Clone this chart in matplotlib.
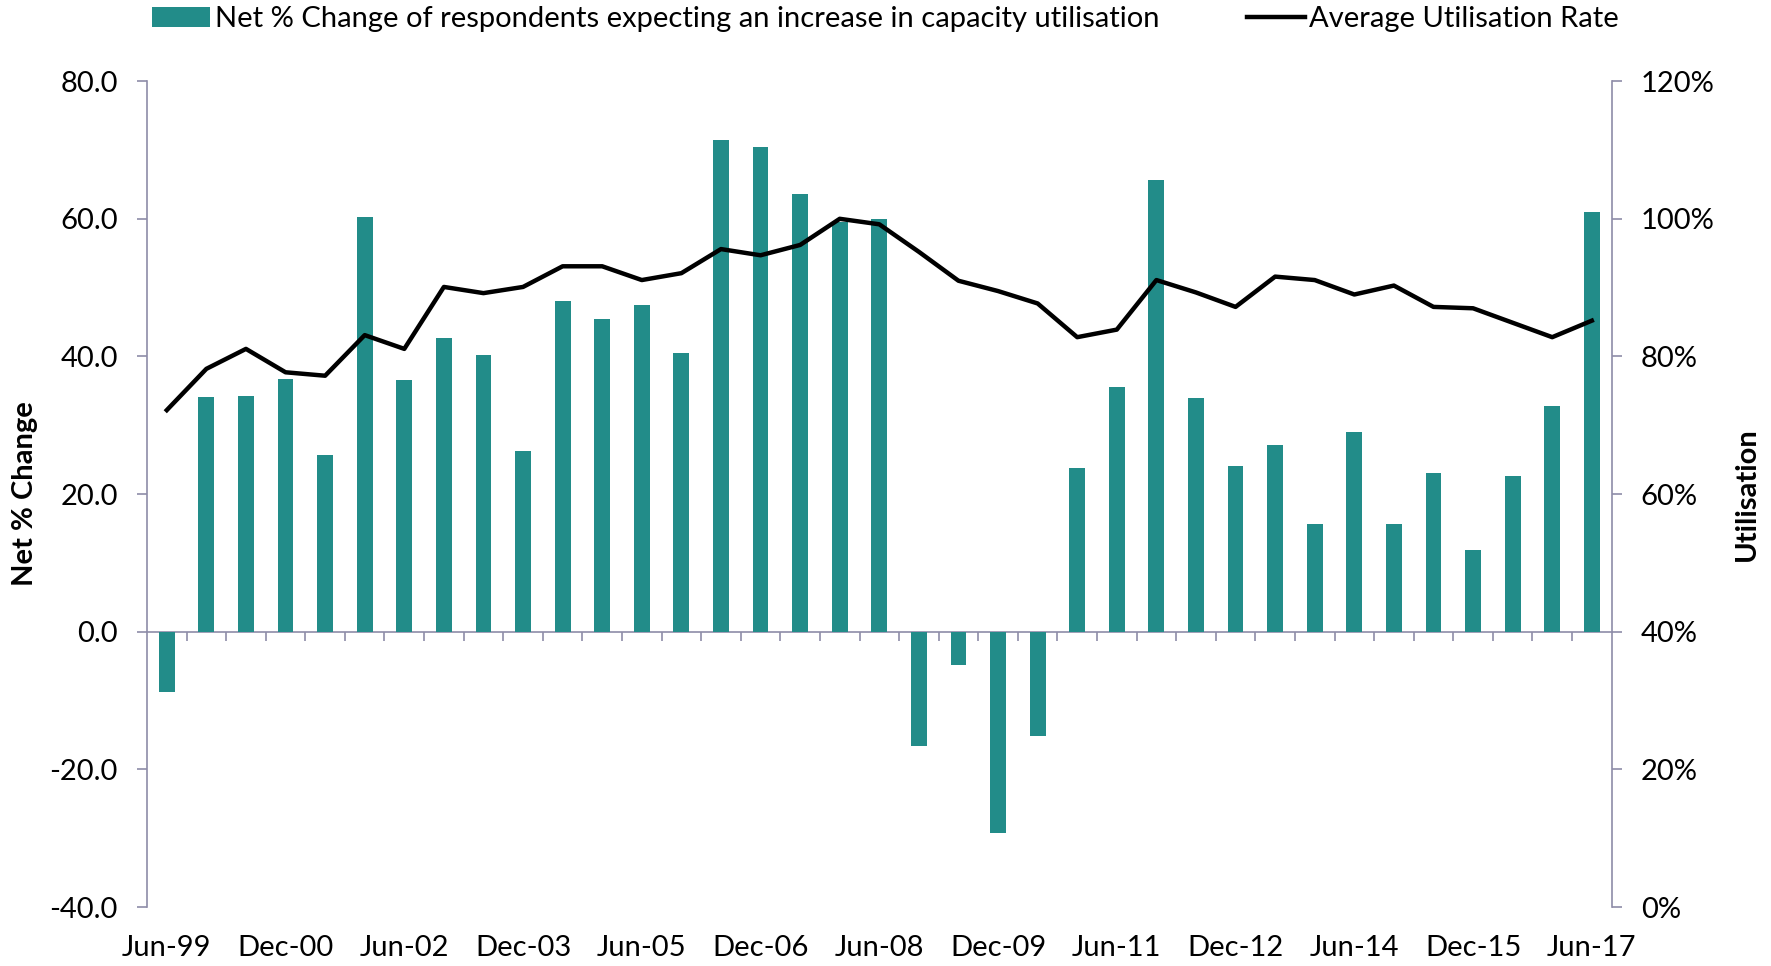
import matplotlib.pyplot as plt
import numpy as np
from matplotlib.ticker import PercentFormatter, FormatStrFormatter

plt.rcParams["font.family"] = ["Lato", "DejaVu Sans"]

periods = [
    "Jun-99", "Dec-99", "Jun-00", "Dec-00", "Jun-01", "Dec-01", "Jun-02", "Dec-02",
    "Jun-03", "Dec-03", "Jun-04", "Dec-04", "Jun-05", "Dec-05", "Jun-06", "Dec-06",
    "Jun-07", "Dec-07", "Jun-08", "Dec-08", "Jun-09", "Dec-09", "Jun-10", "Dec-10",
    "Jun-11", "Dec-11", "Jun-12", "Dec-12", "Jun-13", "Dec-13", "Jun-14", "Dec-14",
    "Jun-15", "Dec-15", "Jun-16", "Dec-16", "Jun-17",
]
net_change = [
    -8.8, 34.1, 34.3, 36.7, 25.7, 60.3, 36.6, 42.7, 40.2, 26.3, 48.1, 45.5,
    47.5, 40.5, 71.5, 70.5, 63.6, 59.5, 60.0, -16.6, -4.8, -29.2, -15.2, 23.8,
    35.5, 65.7, 34.0, 24.1, 27.2, 15.6, 29.0, 15.7, 23.1, 11.9, 22.6, 32.8, 61.0,
]
utilisation = [
    72.2, 78.2, 81.1, 77.7, 77.2, 83.1, 81.1, 90.1, 89.2, 90.1, 93.1, 93.1,
    91.1, 92.1, 95.6, 94.7, 96.2, 100.0, 99.2, 95.2, 91.0, 89.5, 87.7, 82.8,
    83.9, 91.1, 89.3, 87.2, 91.6, 91.1, 89.0, 90.3, 87.2, 87.0, 84.9, 82.8, 85.2,
]

bar_color = "#228C89"
axis_color = "#8E8CA8"
fs = 21

x = np.arange(len(periods))

fig = plt.figure(figsize=(17.71, 9.66), dpi=100)
ax = fig.add_axes([0.083, 0.061, 0.827, 0.855])
ax2 = ax.twinx()

bars = ax.bar(x, net_change, width=0.4, color=bar_color, zorder=2,
              label="Net % Change of respondents expecting an increase in capacity utilisation")
line, = ax2.plot(x, utilisation, color="black", lw=3.2, zorder=3,
                 label="Average Utilisation Rate")

ax.set_xlim(-0.5, len(periods) - 0.5)
ax.set_ylim(-40, 80)
ax.set_yticks(np.arange(-40, 81, 20))
ax.yaxis.set_major_formatter(FormatStrFormatter("%.1f"))
ax2.set_ylim(0, 120)
ax2.set_yticks(np.arange(0, 121, 20))
ax2.yaxis.set_major_formatter(PercentFormatter(decimals=0))

ax.set_xticks(x[::3])
ax.set_xticklabels(periods[::3])
ax.tick_params(axis="x", length=0, pad=20, labelsize=fs)
ax.tick_params(axis="y", direction="out", length=7, width=1.2, color=axis_color,
               pad=14, labelsize=fs)
ax2.tick_params(axis="y", direction="out", length=7, width=1.2, color=axis_color,
                pad=14, labelsize=fs)

for a in (ax, ax2):
    for side in ("top", "bottom"):
        a.spines[side].set_visible(False)
    for side in ("left", "right"):
        a.spines[side].set_color(axis_color)
        a.spines[side].set_linewidth(1.2)
ax.spines["right"].set_visible(False)
ax2.spines["left"].set_visible(False)

# category axis drawn along the zero line
zero_ax = ax.secondary_xaxis(40 / 120)
zero_ax.set_xticks(x[:-1] + 0.5)
zero_ax.set_xticklabels([])
zero_ax.tick_params(direction="out", length=6.5, width=1.2, color=axis_color)
zero_ax.spines["bottom"].set_color(axis_color)
zero_ax.spines["bottom"].set_linewidth(1.2)

ax.set_ylabel("Net % Change", fontsize=fs, fontweight="bold", labelpad=8)
ax2.set_ylabel("Utilisation", fontsize=fs, fontweight="bold", labelpad=14)

fig.legend([bars, line], [bars.get_label(), line.get_label()], loc="center",
           bbox_to_anchor=(0.5, 0.98), ncol=2, frameon=False, fontsize=fs,
           handlelength=2.0, handletextpad=0.15, columnspacing=3.0)

fig.savefig("out.png", dpi=100)
